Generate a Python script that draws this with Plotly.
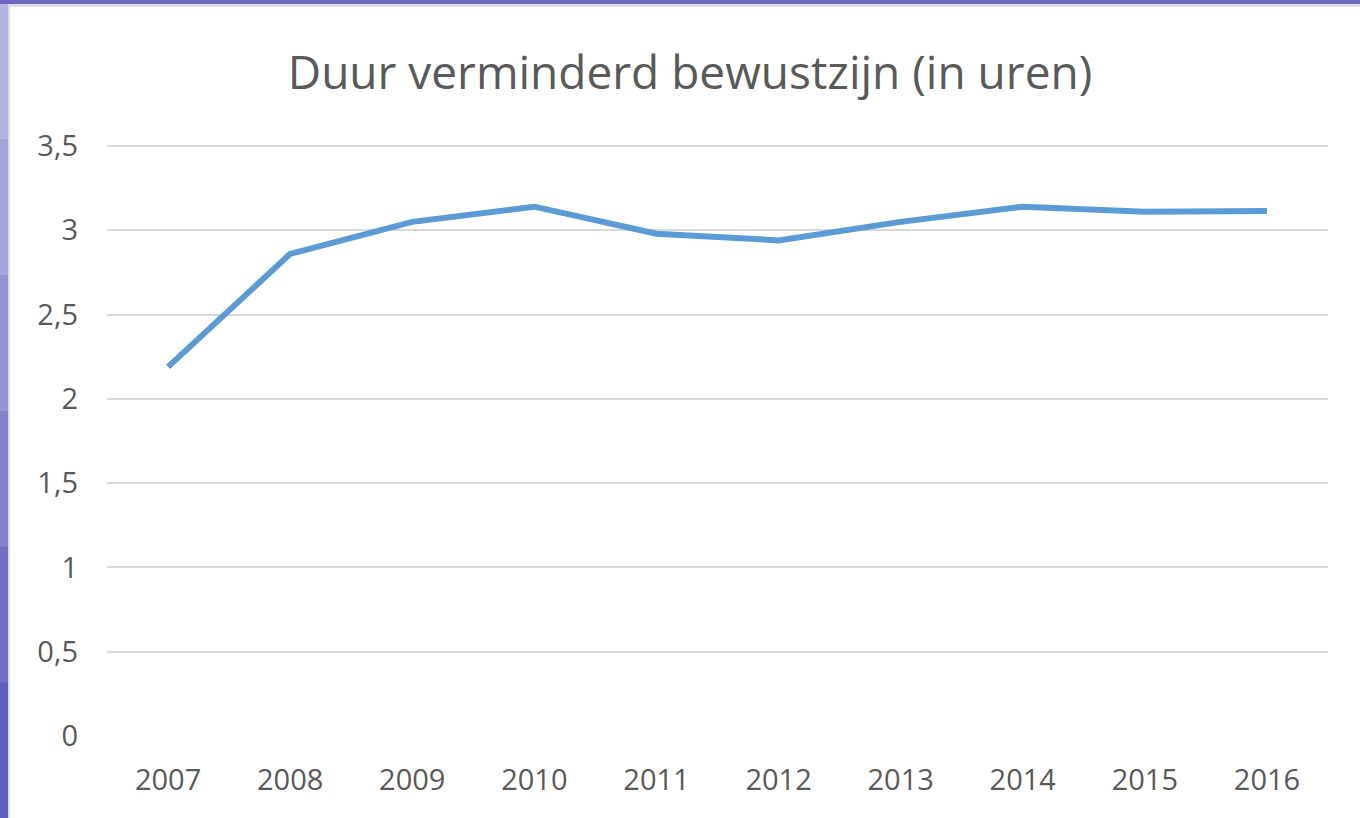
import plotly.graph_objects as go

years = ["2007", "2008", "2009", "2010", "2011", "2012", "2013", "2014", "2015", "2016"]
hours = [2.19, 2.86, 3.05, 3.14, 2.98, 2.94, 3.05, 3.14, 3.11, 3.115]
title_text = "Duur verminderd bewustzijn (in uren)"

W, H = 1360, 818
L, R, T, B = 107, 32, 144, 82
PW, PH = W - L - R, H - T - B
YMAX = 3.5 + 2 * 3.5 / 590


def px(x):
    return (x - L) / PW


def py(y):
    return (H - B - y) / PH


fig = go.Figure()
fig.add_trace(go.Scatter(
    x=years, y=hours, mode="lines",
    line=dict(color="#5b9bd5", width=6),
    hoverinfo="x+y", showlegend=False,
))

shapes = []
band_cols = ["#b4b4e2", "#a4a4dc", "#9494d4", "#8484cc", "#7070c4", "#5e5ebc"]
n = len(band_cols)
for i, c in enumerate(band_cols):
    y0 = 4 + i * (H - 4) / n
    y1 = 4 + (i + 1) * (H - 4) / n
    shapes.append(dict(type="rect", xref="paper", yref="paper", layer="below",
                       x0=px(0), x1=px(9), y0=py(y1), y1=py(y0),
                       fillcolor=c, line=dict(width=0)))
shapes.append(dict(type="rect", xref="paper", yref="paper", layer="below",
                   x0=px(0), x1=px(W), y0=py(4), y1=py(0),
                   fillcolor="#6c66c2", line=dict(width=0)))
shapes.append(dict(type="rect", xref="paper", yref="paper", layer="below",
                   x0=px(8), x1=px(W), y0=py(H), y1=py(4),
                   fillcolor="#dedede", line=dict(width=0)))
shapes.append(dict(type="rect", xref="paper", yref="paper", layer="below",
                   x0=px(10), x1=px(W), y0=py(H), y1=py(7),
                   fillcolor="#ffffff", line=dict(width=0)))

fig.update_layout(
    width=W, height=H,
    margin=dict(l=L, r=R, t=T, b=B),
    paper_bgcolor="#8c8cd0",
    plot_bgcolor="rgba(0,0,0,0)",
    separators=",.",
    shapes=shapes,
    title=dict(text=title_text, xref="container", x=690 / W, xanchor="center",
               yref="container", y=1 - 73 / H, yanchor="middle",
               font=dict(family="Open Sans", size=46, color="#595959")),
    font=dict(family="Open Sans", color="#595959"),
    xaxis=dict(type="category", range=[-0.5, 9.5], showgrid=False,
               showline=False, zeroline=False, ticks="",
               tickfont=dict(size=29, color="#595959"),
               ticklabelstandoff=24),
    yaxis=dict(range=[0, YMAX], dtick=0.5, tick0=0, showgrid=True,
               gridcolor="#d9d9d9", gridwidth=1.5, zeroline=False,
               showline=False, ticks="",
               tickfont=dict(size=29, color="#595959"),
               ticklabelstandoff=28),
)

fig.write_html("out.html", config={"displayModeBar": False},
               post_script="document.body.style.margin='0';document.body.style.padding='0';")
